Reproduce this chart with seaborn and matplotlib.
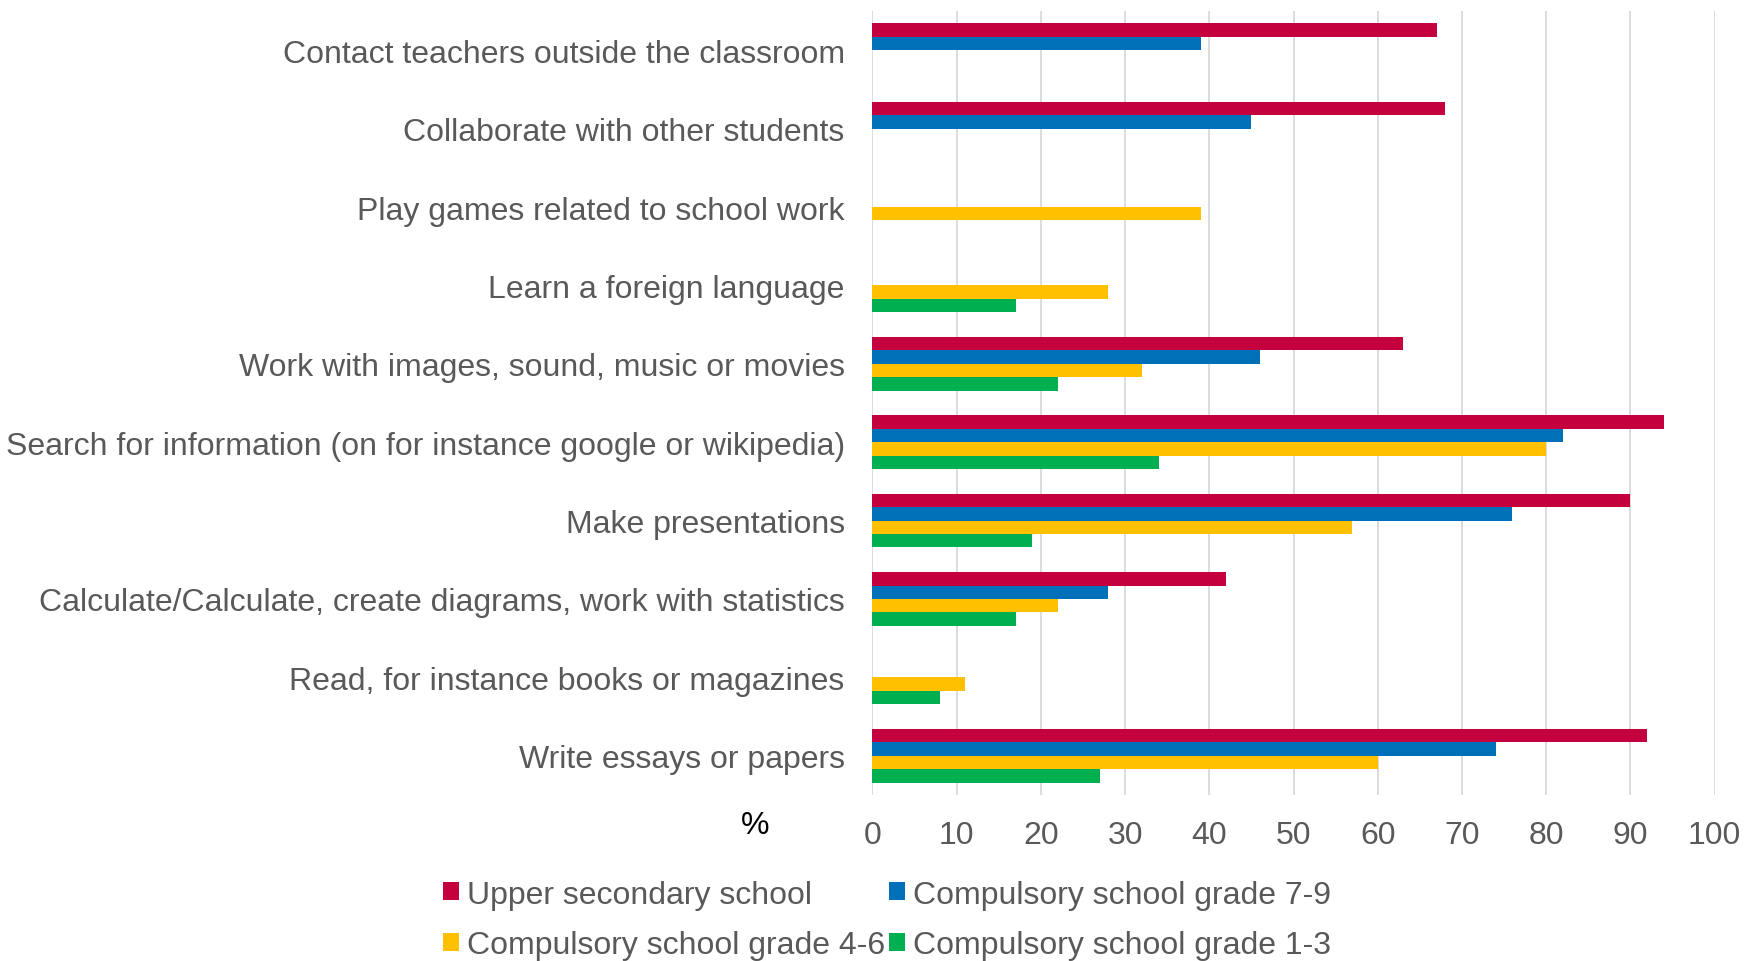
import numpy as np
import pandas as pd
import matplotlib
matplotlib.use("Agg")
import matplotlib.pyplot as plt
import seaborn as sns

categories = [
    "Contact teachers outside the classroom",
    "Collaborate with other students",
    "Play games related to school work",
    "Learn a foreign language",
    "Work with images, sound, music or movies",
    "Search for information (on for instance google or wikipedia)",
    "Make presentations",
    "Calculate/Calculate, create diagrams, work with statistics",
    "Read, for instance books or magazines",
    "Write essays or papers",
]
series_names = [
    "Upper secondary school",
    "Compulsory school grade 7-9",
    "Compulsory school grade 4-6",
    "Compulsory school grade 1-3",
]
upper_secondary = [67, 68, np.nan, np.nan, 63, 94, 90, 42, np.nan, 92]
grade_7_9 = [39, 45, np.nan, np.nan, 46, 82, 76, 28, np.nan, 74]
grade_4_6 = [np.nan, np.nan, 39, 28, 32, 80, 57, 22, 11, 60]
grade_1_3 = [np.nan, np.nan, np.nan, 17, 22, 34, 19, 17, 8, 27]
x_ticks = [0, 10, 20, 30, 40, 50, 60, 70, 80, 90, 100]

colors = ["#C4003F", "#0070B9", "#FFC000", "#00AF50"]

rows = []
for name, vals in zip(series_names, [upper_secondary, grade_7_9, grade_4_6, grade_1_3]):
    for cat, v in zip(categories, vals):
        rows.append({"Activity": cat, "Group": name, "Value": v})
df = pd.DataFrame(rows)

sns.set_theme(style="white")
plt.rcParams["font.family"] = ["Liberation Sans", "DejaVu Sans"]

fig = plt.figure(figsize=(17.46, 9.62), dpi=100)
ax = fig.add_axes([0.4997, 0.1726, 0.4823, 0.8149])

sns.barplot(
    data=df, y="Activity", x="Value", hue="Group",
    order=categories, hue_order=series_names,
    palette=colors, saturation=1, orient="h", width=0.685, gap=0,
    linewidth=0, errorbar=None, ax=ax, legend=True,
)

ax.set_xlim(0, 100)
ax.set_ylim(9.5, -0.5)
ax.set_xticks(x_ticks)
ax.set_xticklabels([str(t) for t in x_ticks])
ax.set_xlabel("")
ax.set_ylabel("")
for s in ax.spines.values():
    s.set_visible(False)
ax.grid(axis="x", color="#d9d9d9", linewidth=1.3)
ax.grid(axis="y", visible=False)
ax.set_axisbelow(True)
ax.tick_params(axis="x", length=0, pad=18, labelsize=23, labelcolor="#595959")
ax.tick_params(axis="y", length=0, pad=20, labelsize=23, labelcolor="#595959")

handles, labels = ax.get_legend_handles_labels()
ax.get_legend().remove()
order = [0, 2, 1, 3]
fig.legend(
    [handles[i] for i in order], [labels[i] for i in order],
    loc="center", bbox_to_anchor=(0.508, 0.0425), ncol=2, frameon=False,
    fontsize=23, handlelength=0.5, handleheight=0.5, handletextpad=0.25,
    columnspacing=0.15, labelspacing=0.65, borderpad=0,
    labelcolor="#595959",
)

fig.text(755 / 1746, 1 - 826 / 962, "%", fontsize=23, color="black",
         ha="center", va="center")

fig.savefig("out.png", dpi=100)
